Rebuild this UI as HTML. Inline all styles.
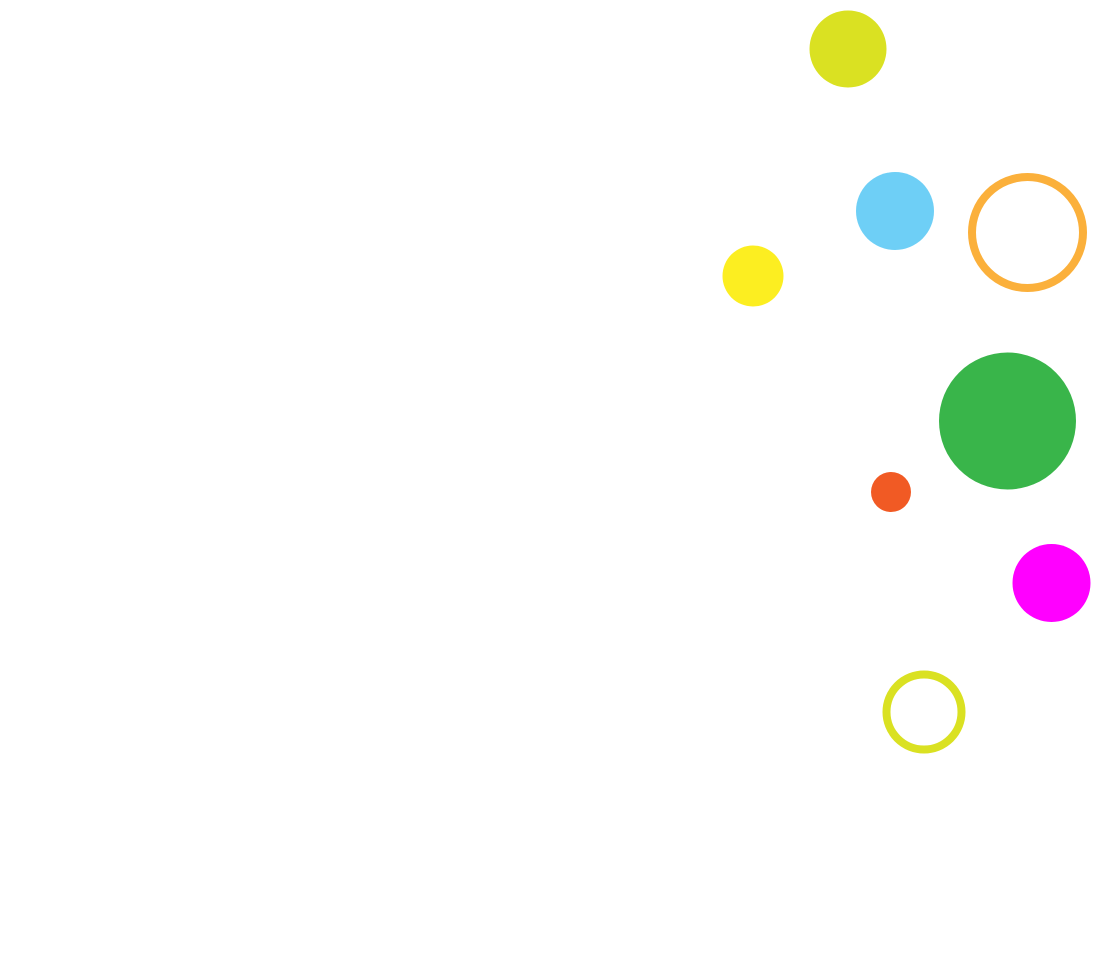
<!DOCTYPE html>
<html><head><meta charset="utf-8"><style>html,body{margin:0;padding:0;background:#fff;}svg{display:block}</style></head>
<body>
<svg width="1093" height="961" viewBox="0 0 1093 961" xmlns="http://www.w3.org/2000/svg">
<rect width="1093" height="961" fill="#fff"/>
<circle cx="848" cy="49" r="38.5" fill="#dae122"/>
<circle cx="895" cy="211" r="39" fill="#6ecff6"/>
<circle cx="1027.5" cy="232.5" r="55.5" fill="none" stroke="#fbb03b" stroke-width="8"/>
<circle cx="753" cy="276" r="30.5" fill="#fcee21"/>
<circle cx="1007.5" cy="421" r="68.5" fill="#39b54a"/>
<circle cx="891" cy="492" r="20" fill="#f15a24"/>
<circle cx="1051.5" cy="583" r="39" fill="#ff00ff"/>
<circle cx="924" cy="712" r="37.5" fill="none" stroke="#dae122" stroke-width="8"/>
</svg>
</body></html>
